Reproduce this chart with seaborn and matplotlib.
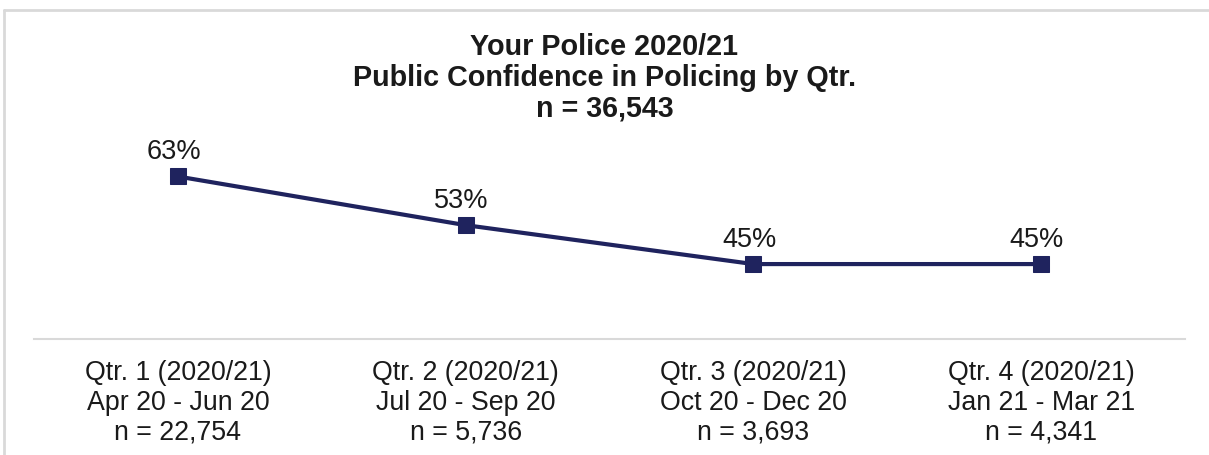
import matplotlib
matplotlib.use("Agg")
import matplotlib.pyplot as plt
import seaborn as sns
import pandas as pd
from matplotlib.lines import Line2D

sns.set_theme(style="white")
plt.rcParams['font.family'] = ['Liberation Sans', 'DejaVu Sans']

quarters = ["Qtr. 1 (2020/21)", "Qtr. 2 (2020/21)", "Qtr. 3 (2020/21)", "Qtr. 4 (2020/21)"]
periods = ["Apr 20 - Jun 20", "Jul 20 - Sep 20", "Oct 20 - Dec 20", "Jan 21 - Mar 21"]
sample_sizes = ["n = 22,754", "n = 5,736", "n = 3,693", "n = 4,341"]
confidence = [63, 53, 45, 45]
title_lines = ["Your Police 2020/21", "Public Confidence in Policing by Qtr.", "n = 36,543"]

tick_labels = [f"{q}\n{p}\n{n}" for q, p, n in zip(quarters, periods, sample_sizes)]
df = pd.DataFrame({"pos": range(len(confidence)), "value": confidence})

navy = "#1f235e"
fig = plt.figure(figsize=(12.09, 4.55), dpi=100)
ax = fig.add_axes([34/1209, 1 - 339/455, (1185 - 34)/1209, (339 - 140)/455])

sns.lineplot(data=df, x="pos", y="value", ax=ax, color=navy, linewidth=3,
             marker="s", markersize=11, markeredgecolor=navy, markerfacecolor=navy)

for x, v in zip(df["pos"], df["value"]):
    ax.annotate(f"{v}%", (x, v), xytext=(-3, 8), textcoords="offset points",
                ha="center", va="bottom", fontsize=19.5, color="#1a1a1a")

ax.set_xlim(-0.5, 3.5)
ax.set_ylim(29.6, 70.5)
ax.set_xticks(range(len(tick_labels)))
ax.set_xticklabels(tick_labels, fontsize=19.3, color="#1a1a1a", linespacing=1.2)
ax.tick_params(axis="x", length=0, pad=15)
ax.set_yticks([])
ax.set_xlabel("")
ax.set_ylabel("")
for s in ["top", "right", "left"]:
    ax.spines[s].set_visible(False)
ax.spines["bottom"].set_color("#d9d9d9")
ax.spines["bottom"].set_linewidth(1.5)

fig.text(0.5, 1 - 33/455, "\n".join(title_lines), ha="center", va="top",
         fontsize=20.7, fontweight="bold", color="#1a1a1a", linespacing=1.12)

# outer border (chart area frame)
fig.add_artist(Line2D([4/1209, 4/1209], [0, 1 - 10/455], transform=fig.transFigure,
                      color="#d9d9d9", linewidth=2))
fig.add_artist(Line2D([4/1209, 1], [1 - 10/455, 1 - 10/455], transform=fig.transFigure,
                      color="#d9d9d9", linewidth=2))

fig.savefig("out.png", dpi=100, facecolor="white")
